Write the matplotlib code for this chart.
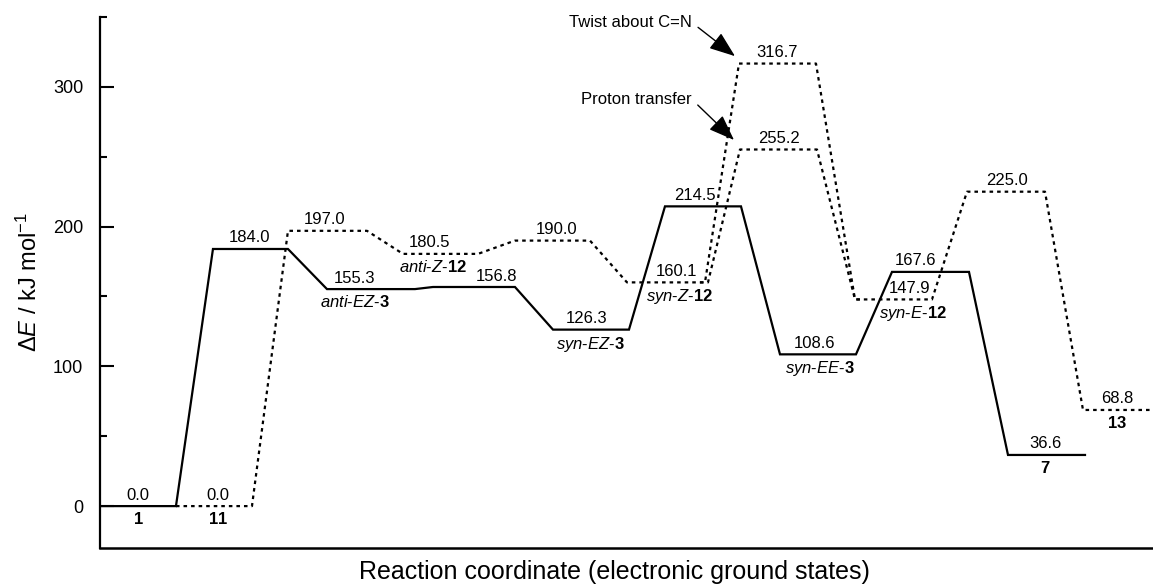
import matplotlib
matplotlib.use("Agg")
import matplotlib.pyplot as plt

plt.rcParams['font.family'] = ['Liberation Sans', 'DejaVu Sans']
plt.rcParams['mathtext.fontset'] = 'custom'
plt.rcParams['mathtext.rm'] = 'Liberation Sans'
plt.rcParams['mathtext.it'] = 'Liberation Sans:italic'
plt.rcParams['mathtext.bf'] = 'Liberation Sans:bold'

# energies (kJ/mol) along the solid path 1 -> 7
solidE = [0.0, 184.0, 155.3, 156.8, 126.3, 214.5, 108.6, 167.6, 36.6]
solidX = [(0, 76), (113, 188), (227, 315), (333, 415), (453, 529),
          (565, 641), (680, 756), (792, 869), (908, 985)]

# dotted path 11 -> 13 (twist about C=N branch)
dotE = [0.0, 197.0, 180.5, 190.0, 160.1, 316.7, 147.9, 225.0, 68.8]
dotX = [(76, 152), (188, 267), (303, 378), (415, 490), (527, 605),
        (639, 716), (755, 832), (867, 945), (983, 1053)]

# proton transfer branch syn-Z-12 -> syn-E-12
branchE = [160.1, 255.2, 147.9]
branchX = [(600, 608), (640, 717), (755, 760)]

# value labels: (x, energy, text)
valLabels = [(38, 0.0, "0.0"), (118, 0.0, "0.0"), (150, 184.0, "184.0"),
             (225, 197.0, "197.0"), (255, 155.3, "155.3"), (330, 180.5, "180.5"),
             (397, 156.8, "156.8"), (457, 190.0, "190.0"), (487, 126.3, "126.3"),
             (577, 160.1, "160.1"), (595, 214.5, "214.5"), (677, 316.7, "316.7"),
             (679, 255.2, "255.2"), (715, 108.6, "108.6"), (816, 167.6, "167.6"),
             (810, 147.9, "147.9"), (907, 225.0, "225.0"), (945, 36.6, "36.6"),
             (1017, 68.8, "68.8")]

# species names below levels
nameLabels = [(38, 0.0, r"$\mathbf{1}$"), (118, 0.0, r"$\mathbf{11}$"),
              (255, 155.3, r"$\mathit{anti}$-$\mathit{EZ}$-$\mathbf{3}$"),
              (333, 180.5, r"$\mathit{anti}$-$\mathit{Z}$-$\mathbf{12}$"),
              (490, 126.3, r"$\mathit{syn}$-$\mathit{EZ}$-$\mathbf{3}$"),
              (580, 160.1, r"$\mathit{syn}$-$\mathit{Z}$-$\mathbf{12}$"),
              (720, 108.6, r"$\mathit{syn}$-$\mathit{EE}$-$\mathbf{3}$"),
              (813, 147.9, r"$\mathit{syn}$-$\mathit{E}$-$\mathbf{12}$"),
              (945, 36.6, r"$\mathbf{7}$"), (1017, 68.8, r"$\mathbf{13}$")]


def path(levels, xs):
    px, py = [], []
    for e, (a, b) in zip(levels, xs):
        px += [a, b]
        py += [e, e]
    return px, py


fig = plt.figure(figsize=(11.53, 5.87), dpi=100)
ax = fig.add_axes([0.0867, 0.0664, 0.9133, 0.9046])

x, y = path(solidE, solidX)
ax.plot(x, y, color='black', lw=1.6, solid_joinstyle='miter')
x, y = path(dotE, dotX)
ax.plot(x, y, color='black', lw=1.6, linestyle=(0, (1.6, 1.8)))
x, y = path(branchE, branchX)
ax.plot(x, y, color='black', lw=1.6, linestyle=(0, (1.6, 1.8)))

for xx, e, t in valLabels:
    ax.text(xx, e + 2.5, t, ha='center', va='bottom', fontsize=12)
for xx, e, t in nameLabels:
    ax.text(xx, e - 3.5, t, ha='center', va='top', fontsize=12)

arrow = dict(arrowstyle='-|>,head_length=0.8,head_width=0.3', color='black',
             lw=1.0, relpos=(1.0, 0.5), shrinkA=3, shrinkB=0, mutation_scale=20)
ax.annotate("Twist about C=N", xy=(635, 322), xytext=(592, 346),
            ha='right', va='center', fontsize=12, arrowprops=arrow)
ax.annotate("Proton transfer", xy=(634, 262), xytext=(592, 291),
            ha='right', va='center', fontsize=12, arrowprops=arrow)

ax.set_xlim(0, 1053)
ax.set_ylim(-30, 350)
ax.set_yticks([0, 100, 200, 300])
ax.set_yticks([50, 150, 250, 350], minor=True)
ax.set_xticks([])
ax.tick_params(axis='y', which='major', direction='in', length=10, width=1.5,
               labelsize=13, pad=12)
ax.tick_params(axis='y', which='minor', direction='in', length=5, width=1.5)
for s in ['top', 'right']:
    ax.spines[s].set_visible(False)
ax.spines['left'].set_linewidth(1.6)
ax.spines['bottom'].set_linewidth(1.8)

ax.set_ylabel(r"$\Delta\mathit{E}$ / kJ mol$^{-1}$", fontsize=17, labelpad=8)
ax.set_xlabel("Reaction coordinate (electronic ground states)", fontsize=18)
ax.xaxis.set_label_coords(0.489, -0.022)

fig.savefig("out.png", dpi=100)
